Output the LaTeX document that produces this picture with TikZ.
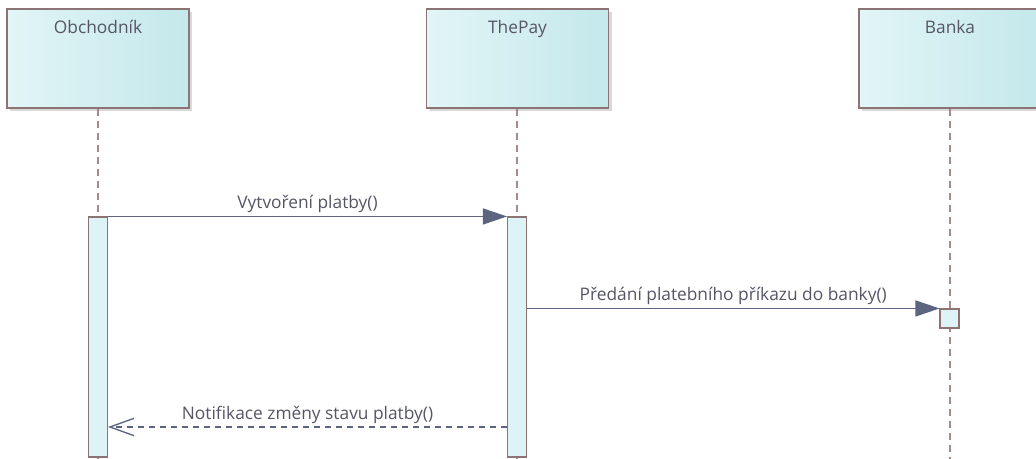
\documentclass[tikz,border=0pt]{standalone}
\usepackage{fontspec}
\setmainfont{Open Sans}
\usetikzlibrary{positioning,arrows.meta,shadows,calc}
\definecolor{head1}{HTML}{E2F5F7}
\definecolor{head2}{HTML}{C4E8EB}
\definecolor{act1}{HTML}{DDF3F5}
\definecolor{edge1}{HTML}{8C7474}
\definecolor{life1}{HTML}{A88888}
\definecolor{msg1}{HTML}{5C6480}
\definecolor{text1}{HTML}{555566}
\newlength\px
\setlength\px{0.75pt}

\begin{document}
\begin{tikzpicture}[
    x=0.75pt, y=-0.75pt,
    head/.style={draw=edge1, line width=0.8pt, left color=head1, right color=head2,
                 minimum width=182\px, minimum height=99\px, inner sep=0pt,
                 drop shadow={shadow xshift=3\px, shadow yshift=-3\px,
                              fill=gray, opacity=0.3}},
    headtxt/.style={anchor=north, yshift=-7\px, text=text1,
                    font=\fontsize{13}{15}\selectfont},
    life/.style={draw=life1, line width=0.8pt, dash pattern=on 7\px off 5\px},
    act/.style={draw=edge1, line width=0.8pt, fill=act1,
                minimum width=19\px, inner sep=0pt},
    msglbl/.style={text=text1, font=\fontsize{13}{15}\selectfont, inner sep=2pt},
    call/.style={draw=msg1, line width=1pt, -{Triangle[length=18pt, width=12pt]}},
    reply/.style={draw=msg1, line width=1pt, dash pattern=on 6\px off 5\px,
                  -{Straight Barb[length=18pt, width=13pt]}},
]
\useasboundingbox (0,0) rectangle (1036,459);

% lifeline heads
\node[head, label={[headtxt]north:Obchodník}] (obch) at (98,58.5) {};
\node[head, label={[headtxt]north:ThePay}] (pay) at (517.5,58.5) {};
\node[head, label={[headtxt]north:Banka}] (bank) at (950,58.5) {};

% lifelines
\coordinate (obchEnd) at (98,459);
\coordinate (payEnd) at (517,459);
\coordinate (bankEnd) at (950,459);
\draw[life] (obch) -- (obchEnd);
\draw[life] (pay.south -| payEnd) -- (payEnd);
\draw[life] (bank) -- (bankEnd);

% activations
\node[act, minimum height=240\px] (obchAct) at (98,337) {};
\node[act, minimum height=240\px] (payAct) at (517,337) {};
\node[act, minimum height=19\px] (bankAct) at (949.5,318.5) {};

% messages
\coordinate (ret) at (0,427);
\draw[call] (obchAct.north east) -- node[msglbl, above] {Vytvoření platby()} (payAct.north west);
\draw[call] (payAct.east |- bankAct.north) -- node[msglbl, above] {Předání platebního příkazu do banky()} (bankAct.north west);
\draw[reply] (payAct.west |- ret) -- node[msglbl, above] {Notifikace změny stavu platby()} (obchAct.east |- ret);
\end{tikzpicture}
\end{document}
